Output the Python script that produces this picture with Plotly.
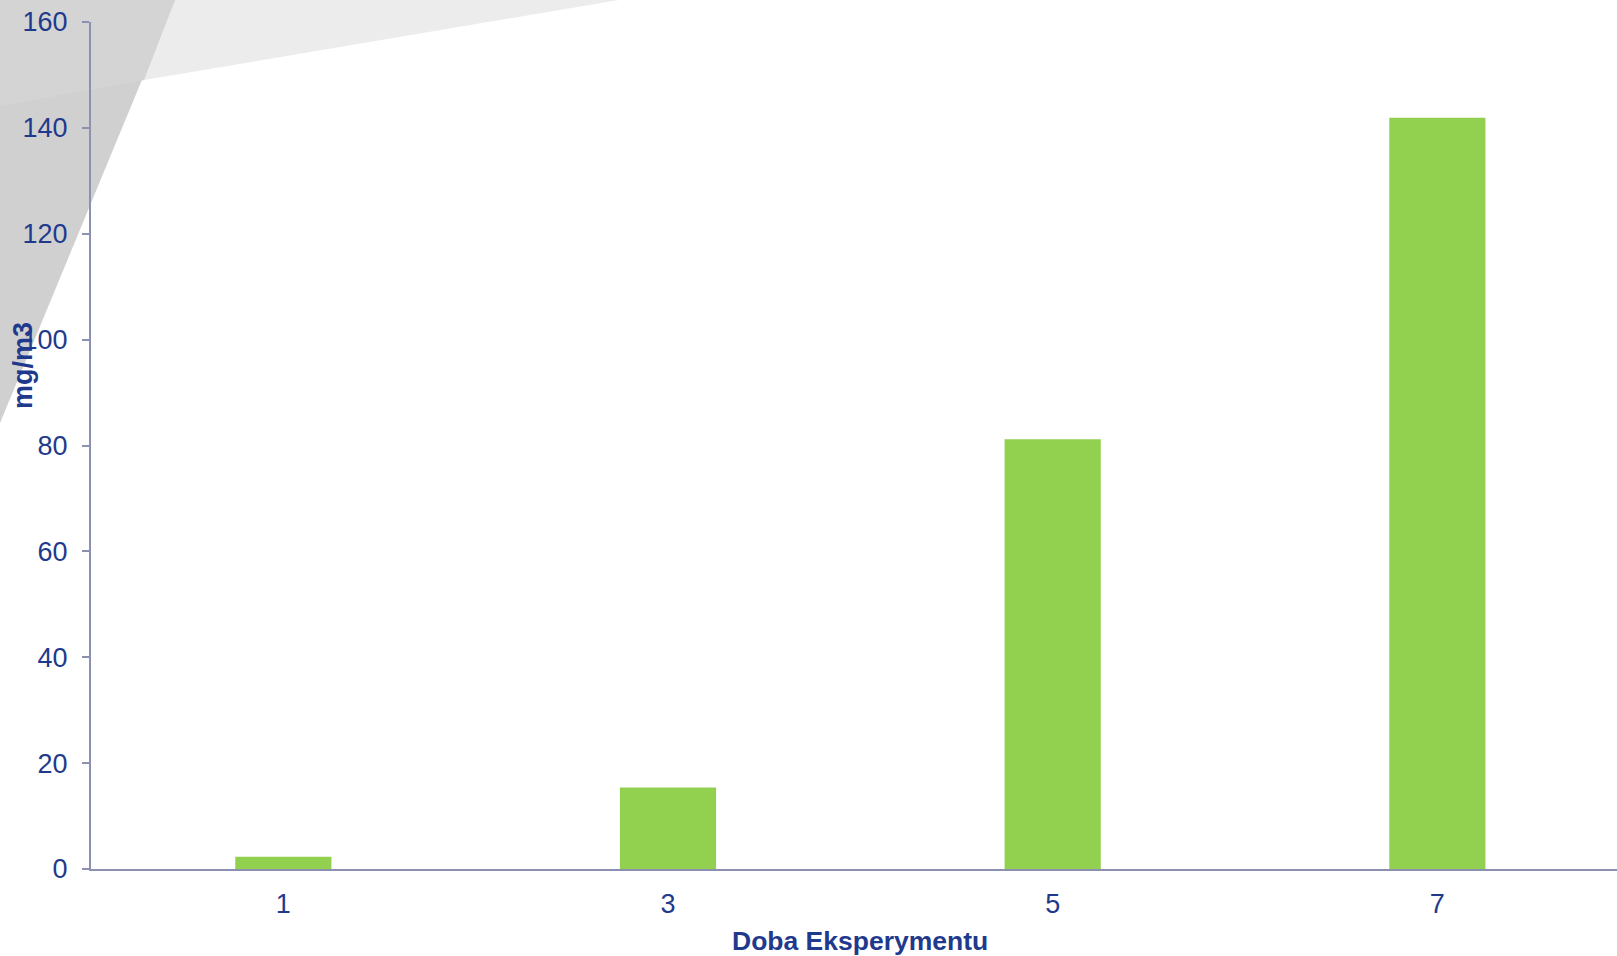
import plotly.graph_objects as go

# Measurement days and concentration values
days = ["1", "3", "5", "7"]
concentration = [2.3, 15.4, 81.2, 141.9]
y_ticks = [0, 20, 40, 60, 80, 100, 120, 140, 160]

W, H = 1617, 956
ML, MR, MT, MB = 91, 0, 22, 87
PW, PH = W - ML - MR, H - MT - MB

TEXT = "#1f3a8c"
AXIS = "#8c91b1"
FONT = "Liberation Sans, Arial, sans-serif"


def px(x):
    return (x - ML) / PW


def py(y):
    return 1 - (y - MT) / PH


def poly(points):
    return "M " + " L ".join(f"{px(x):.5f},{py(y):.5f}" for x, y in points) + " Z"


fig = go.Figure(
    go.Bar(
        x=days,
        y=concentration,
        marker=dict(color="#92d050", line=dict(width=0)),
        hoverinfo="x+y",
    )
)

# Decorative grey wedges in the top-left corner
shapes = [
    dict(type="path", path=poly([(0, 0), (619, 0), (144, 80), (0, 106)]),
         xref="paper", yref="paper", fillcolor="#ececec", line=dict(width=0), layer="below"),
    dict(type="path", path=poly([(0, 0), (175, 0), (0, 423)]),
         xref="paper", yref="paper", fillcolor="#d0d0d0", line=dict(width=0), layer="below"),
    dict(type="path", path=poly([(0, 0), (175, 0), (144, 80), (0, 106)]),
         xref="paper", yref="paper", fillcolor="#d4d4d4", line=dict(width=0), layer="below"),
]

fig.update_layout(
    width=W,
    height=H,
    margin=dict(l=ML, r=MR, t=MT, b=MB, pad=0),
    paper_bgcolor="white",
    plot_bgcolor="rgba(0,0,0,0)",
    showlegend=False,
    bargap=0.75,
    font=dict(family=FONT, color=TEXT, size=27),
    shapes=shapes,
    xaxis=dict(
        range=[-0.5, 3.467],
        showgrid=False,
        zeroline=False,
        showline=True,
        linecolor=AXIS,
        linewidth=2,
        ticks="",
        ticklabelstandoff=10,
        tickfont=dict(family=FONT, color=TEXT, size=27),
    ),
    yaxis=dict(
        range=[0, 160],
        tickvals=y_ticks,
        showgrid=False,
        zeroline=False,
        showline=True,
        linecolor=AXIS,
        linewidth=2,
        ticks="outside",
        ticklen=7,
        tickwidth=2,
        tickcolor=AXIS,
        ticklabelstandoff=9,
        tickfont=dict(family=FONT, color=TEXT, size=27),
    ),
    annotations=[
        dict(text="<b>mg/m3</b>", xref="paper", yref="paper",
             x=px(23), y=py(366), xanchor="center", yanchor="middle",
             textangle=-90, showarrow=False,
             font=dict(family=FONT, color=TEXT, size=27)),
        dict(text="<b>Doba Eksperymentu</b>", xref="paper", yref="paper",
             x=px(860), y=py(941), xanchor="center", yanchor="middle",
             showarrow=False,
             font=dict(family=FONT, color=TEXT, size=26.5)),
    ],
)

fig.write_html("out.html")
